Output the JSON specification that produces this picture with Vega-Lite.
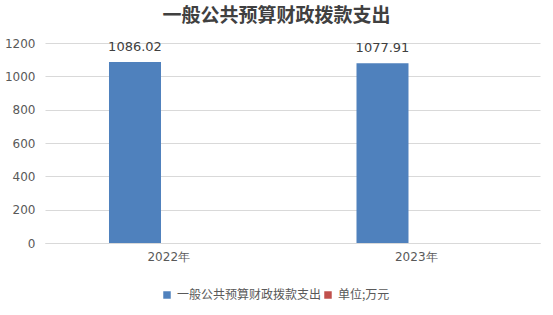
{
  "$schema": "https://vega.github.io/schema/vega-lite/v6.json",
  "width": 495,
  "height": 200,
  "autosize": {"type": "none"},
  "padding": {"left": 45, "top": 43, "right": 13, "bottom": 72},
  "background": "white",
  "title": {
    "text": "一般公共预算财政拨款支出",
    "font": "Noto Sans CJK SC",
    "fontSize": 19,
    "fontWeight": "bold",
    "color": "#404040",
    "anchor": "middle",
    "dx": -16,
    "offset": 11
  },
  "data": {
    "values": [
      {"year": "2022年", "series": "一般公共预算财政拨款支出", "value": 1086.02},
      {"year": "2022年", "series": "单位;万元", "value": 0},
      {"year": "2023年", "series": "一般公共预算财政拨款支出", "value": 1077.91},
      {"year": "2023年", "series": "单位;万元", "value": 0}
    ]
  },
  "encoding": {
    "x": {
      "field": "year",
      "type": "nominal",
      "sort": null,
      "scale": {"paddingInner": 0, "paddingOuter": 0},
      "axis": {
        "title": null,
        "labelAngle": 0,
        "ticks": false,
        "labelPadding": 8,
        "labelFontSize": 12,
        "labelColor": "#595959",
        "labelFont": "DejaVu Sans",
        "domainColor": "#d9d9d9",
        "grid": false
      }
    },
    "xOffset": {
      "field": "series",
      "type": "nominal",
      "sort": ["一般公共预算财政拨款支出", "单位;万元"],
      "scale": {"paddingInner": 0.202, "paddingOuter": 1, "align": 0.491}
    },
    "y": {
      "field": "value",
      "type": "quantitative",
      "scale": {"domain": [0, 1200], "nice": false},
      "axis": {
        "title": null,
        "tickCount": 6,
        "format": "d",
        "labelOverlap": false,
        "ticks": false,
        "domain": false,
        "labelPadding": 10,
        "labelFontSize": 12,
        "labelColor": "#595959",
        "labelFont": "DejaVu Sans",
        "gridColor": "#d9d9d9"
      }
    }
  },
  "layer": [
    {
      "mark": {"type": "bar"},
      "encoding": {
        "color": {
          "field": "series",
          "type": "nominal",
          "sort": ["一般公共预算财政拨款支出", "单位;万元"],
          "scale": {"domain": ["一般公共预算财政拨款支出", "单位;万元"], "range": ["#4F81BD", "#C0504D"]},
          "legend": {
            "title": null,
            "orient": "none",
            "direction": "horizontal",
            "legendX": 116,
            "legendY": 246,
            "symbolType": "square",
            "symbolSize": 56,
            "symbolStrokeWidth": 0,
            "labelFontSize": 12,
            "labelColor": "#595959",
            "labelFont": "Noto Sans CJK SC",
            "columnPadding": 0,
            "labelOffset": 4
          }
        }
      }
    },
    {
      "transform": [{"filter": "datum.series === '一般公共预算财政拨款支出'"}],
      "mark": {"type": "text", "baseline": "bottom", "dy": -8, "fontSize": 13, "color": "#404040", "font": "DejaVu Sans"},
      "encoding": {
        "text": {"field": "value", "type": "quantitative", "format": ".2f"}
      }
    }
  ],
  "config": {"view": {"stroke": null}, "axisY": {"tickCount": 6}}
}
